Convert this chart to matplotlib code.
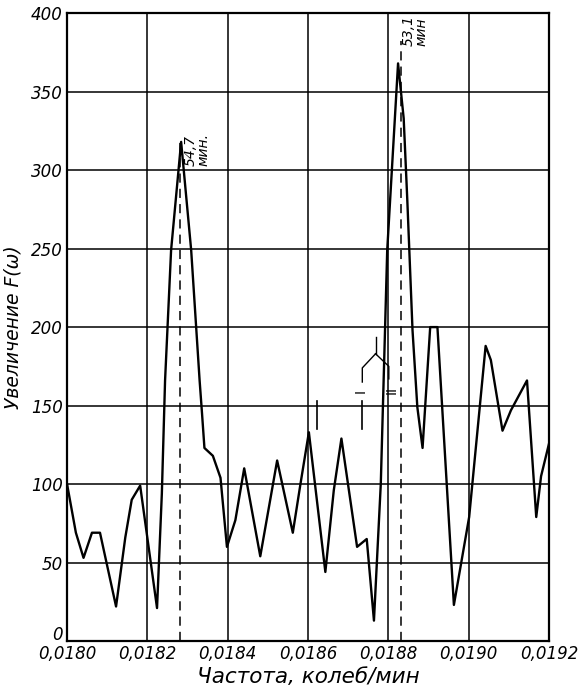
import matplotlib.pyplot as plt
from matplotlib.transforms import ScaledTranslation

# Спектр: частота (колеб/мин) и увеличение F(w)
freq = [0.018000, 0.018022, 0.018041, 0.018062, 0.018082, 0.018122, 0.018145,
        0.018161, 0.018182, 0.018224, 0.018236, 0.018244, 0.018259, 0.018284,
        0.018309, 0.018330, 0.018336, 0.018342, 0.018363, 0.018382, 0.018398,
        0.018419, 0.018441, 0.018481, 0.018523, 0.018562, 0.018581, 0.018602,
        0.018643, 0.018664, 0.018683, 0.018722, 0.018746, 0.018764, 0.018781,
        0.018797, 0.018824, 0.018838, 0.018847, 0.018860, 0.018872, 0.018885,
        0.018904, 0.018922, 0.018963, 0.019001, 0.019042, 0.019055, 0.019084,
        0.019105, 0.019145, 0.019168, 0.019180, 0.019200]
gain = [100, 69, 53, 69, 69, 22, 66,
        90, 99, 21, 94, 166, 249, 318,
        249, 166, 145, 123, 118, 104, 60,
        77, 110, 54, 115, 69, 100, 133,
        44, 96, 129, 60, 65, 13, 100,
        249, 368, 333, 281, 198, 149, 123,
        200, 200, 23, 79, 188, 179, 134,
        147, 166, 79, 105, 126]

periods = [54.7, 53.1]          # мин
period_tops = [318, 382]
period_labels = ["54,7\nмин.", "53,1\nмин"]
xticks = [0.0180, 0.0182, 0.0184, 0.0186, 0.0188, 0.0190, 0.0192]
xtick_labels = ["0,0180", "0,0182", "0,0184", "0,0186", "0,0188", "0,0190", "0,0192"]
yticks = [0, 50, 100, 150, 200, 250, 300, 350, 400]

plt.rcParams['font.family'] = ['DejaVu Sans']

fig = plt.figure(figsize=(5.78, 6.93), dpi=100)
ax = fig.add_axes([0.116, 0.075, 0.834, 0.906])

ax.set_xlim(0.0180, 0.0192)
ax.set_ylim(0, 400)
ax.set_xticks(xticks)
ax.set_xticklabels(xtick_labels, style='italic', fontsize=12)
ax.set_yticks(yticks)
ax.set_yticklabels([str(v) for v in yticks], style='italic', fontsize=12)
ax.tick_params(length=0, pad=3)
ax.grid(True, color='black', linewidth=1.1)
for s in ax.spines.values():
    s.set_linewidth(1.6)

# "0" по оси y чуть выше, как в оригинале
lab0 = ax.get_yticklabels()[0]
lab0.set_transform(lab0.get_transform() + ScaledTranslation(0, 6 / 72, fig.dpi_scale_trans))

ax.plot(freq, gain, color='black', linewidth=1.7, zorder=3)

# пунктир на пиках
for p, top, lab, dx, yt in zip(periods, period_tops, period_labels,
                               [0.0000085, -0.0000005], [313, 389]):
    f = 1.0 / p
    ax.plot([f, f], [0, top], color='black', linewidth=1.1,
            dashes=(6, 4), zorder=2)
    ax.text(f + dx, yt, lab, rotation=90, style='italic', fontsize=10,
            ha='left', va='center', linespacing=0.9)

# пометки I и II
ax.plot([0.018768, 0.018768], [194, 183], color='black', lw=1.0)
ax.plot([0.018768, 0.018735, 0.018735], [183, 174, 165], color='black', lw=1.0)
ax.plot([0.018768, 0.018801, 0.018801], [183, 175, 167], color='black', lw=1.0)
ax.text(0.018731, 159, "I", rotation=90, fontsize=10, ha='center', va='center')
ax.text(0.018807, 160, "II", rotation=90, fontsize=10, ha='center', va='center')
for xm in [0.018622, 0.018735]:
    ax.plot([xm, xm], [135, 153], color='black', lw=1.2)

ax.set_xlabel("Частота, колеб/мин", style='italic', fontsize=15.5, labelpad=3)
ax.set_ylabel("Увеличение F(ω)", style='italic', fontsize=13.5, labelpad=6)

fig.savefig("out.png", dpi=100)
